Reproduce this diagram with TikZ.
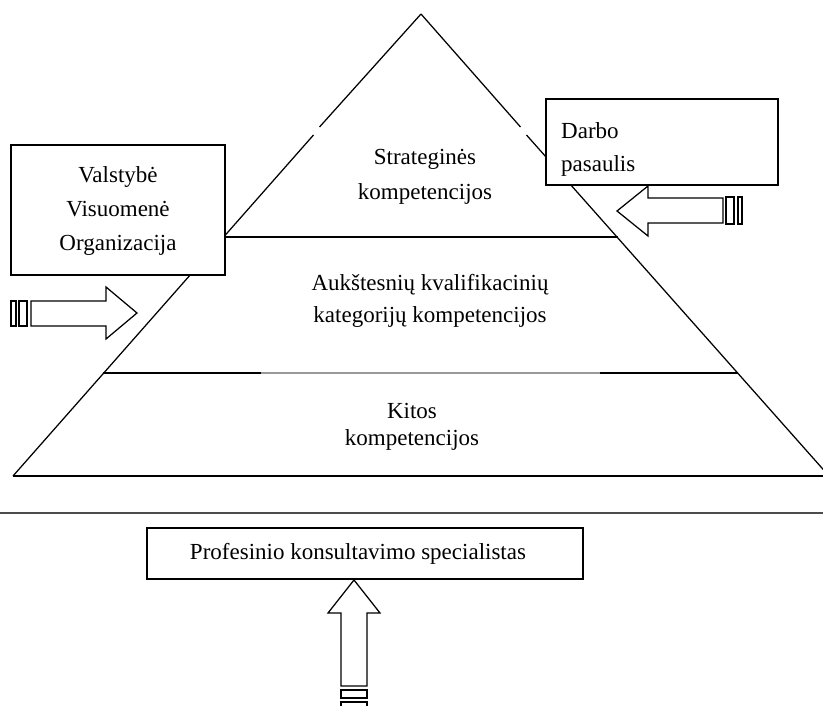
\documentclass[tikz,border=0pt]{standalone}
\usepackage{fontspec}
\setmainfont{Liberation Serif}
\begin{document}
\begin{tikzpicture}[x=1bp,y=-1bp,
  ln/.style={line width=1.25bp, black},
  box/.style={draw, line width=1.25bp, inner sep=0pt},
  lbl/.style={inner sep=0pt, align=center, font=\fontsize{23bp}{34bp}\selectfont},
  shp/.style={draw, line width=1.25bp, fill=white, line join=miter}]
\clip (0,0) rectangle (823,706);
\fill[white] (0,0) rectangle (823,706);
% pyramid geometry
\coordinate (apex) at (421,14);
\coordinate (bl) at (13,476);
\coordinate (br) at (829,476);
\coordinate (lg1) at (319.5,127);
\coordinate (lg2) at (313.5,135);
\coordinate (rg1) at (520.5,127);
\coordinate (rg2) at (526.5,135);
\coordinate (l1a) at (224,237);
\coordinate (l1b) at (618,237);
\coordinate (l2a) at (103,373);
\coordinate (l2b) at (738,373);
\draw[ln] (apex) -- (lg1);
\draw[ln] (lg2) -- (bl);
\draw[ln] (apex) -- (rg1);
\draw[ln] (rg2) -- (br);
\draw[ln] (bl) -- (br);
\draw[ln] (l1a) -- (l1b);
\draw[line width=1.25bp, black!40] (l2a) -- (l2b);
\draw[ln] (l2a) -- (261,373);
\draw[ln] (600,373) -- (l2b);
% separator
\coordinate (sepL) at (0,513);
\coordinate (sepR) at (823,513);
\draw[line width=1.25bp, black!70] (sepL) -- (sepR);
% left box
\node[box, fill=white, minimum width=214bp, minimum height=130bp] (lbox) at (118,210) {};
\node[lbl] (ltext) at (118,211) {Valstybė\\Visuomenė\\Organizacija};
% right box
\node[box, fill=white, minimum width=232bp, minimum height=86bp] (rbox) at (662,142) {};
\node[lbl, align=left, anchor=west, font=\fontsize{23bp}{33bp}\selectfont] (rtext) at (561,149) {Darbo\\pasaulis};
% bottom box
\node[box, fill=white, minimum width=436bp, minimum height=51bp] (bbox) at (365,553.5) {};
\node[lbl] (btext) at (358,554) {Profesinio konsultavimo specialistas};
% pyramid labels
\node[lbl, font=\fontsize{23bp}{35bp}\selectfont] (t1) at (425,177) {Strateginės\\kompetencijos};
\node[lbl, font=\fontsize{23bp}{32bp}\selectfont] (t2) at (430,301) {Aukštesnių kvalifikacinių\\kategorijų kompetencijos};
\node[lbl, font=\fontsize{23bp}{27bp}\selectfont] (t3) at (412,427) {Kitos\\kompetencijos};
% left block arrow
\draw[shp] (31,301) -- (106,301) -- (106,287) -- (137,313) -- (106,339) -- (106,326) -- (31,326) -- cycle;
\draw[shp] (11,301) rectangle (16,326);
\draw[shp] (19,301) rectangle (27,326);
% right block arrow
\draw[shp] (723,198) -- (648,198) -- (648,186) -- (617,211) -- (648,236) -- (648,223) -- (723,223) -- cycle;
\draw[shp] (726,197) rectangle (734,224);
\draw[shp] (738,197) rectangle (742,224);
% up block arrow
\draw[shp] (341,686) -- (341,613) -- (328,613) -- (354,580) -- (380,613) -- (367,613) -- (367,686) -- cycle;
\draw[shp] (341,690) rectangle (367,698);
\draw[shp] (341,702) rectangle (367,712);
\end{tikzpicture}
\end{document}
